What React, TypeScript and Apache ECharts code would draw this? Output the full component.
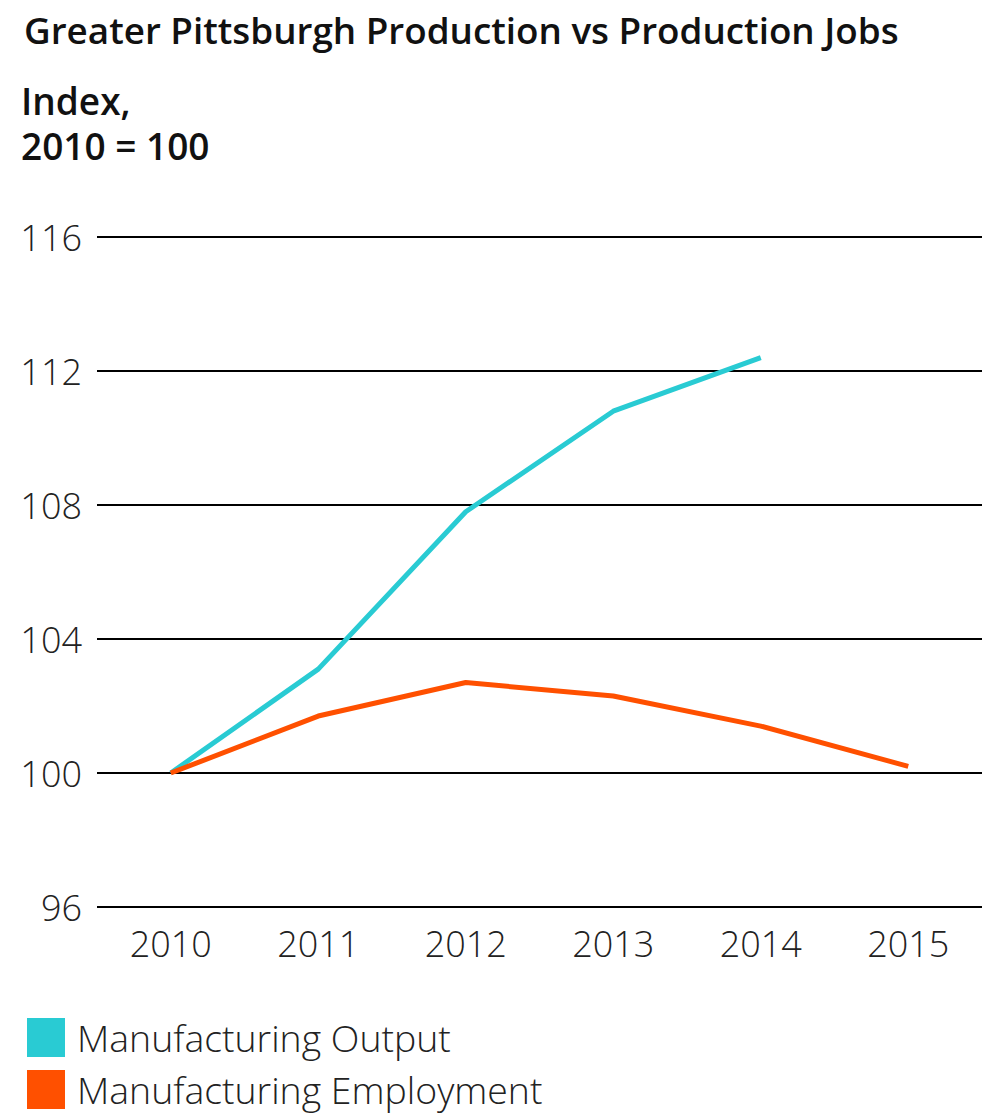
import React, { useEffect, useRef } from "react";
import * as echarts from "echarts";

const years = ["2010", "2011", "2012", "2013", "2014", "2015"];
const outputValues = [100, 103.1, 107.8, 110.8, 112.4, null];
const employmentValues = [100, 101.7, 102.7, 102.3, 101.4, 100.2];
const seriesNames = ["Manufacturing Output", "Manufacturing Employment"];
const colors = ["#29CBD3", "#FF5000"];
const titleText = "Greater Pittsburgh Production vs Production Jobs";
const unitLines = ["Index,", "2010 = 100"];

const FONT = "'Open Sans', 'Noto Sans', sans-serif";

export default function App() {
  const ref = useRef<HTMLDivElement>(null);
  useEffect(() => {
    document.body.style.margin = "0";
    const chart = echarts.init(ref.current!, null, { renderer: "svg" });
    chart.setOption({
      animation: false,
      backgroundColor: "#ffffff",
      title: {
        text: titleText,
        left: 19,
        top: 6,
        textStyle: { fontFamily: FONT, fontSize: 36.8, fontWeight: 600, color: "#111" },
      },
      graphic: unitLines.map((line, i) => ({
        type: "text",
        left: 21,
        top: 82 + i * 45,
        style: {
          text: line,
          fontFamily: FONT,
          fontSize: 37,
          fontWeight: 600,
          fill: "#111",
        },
      })),
      legend: {
        orient: "vertical",
        left: 22,
        top: 1013,
        icon: "rect",
        itemWidth: 38,
        itemHeight: 39,
        itemGap: 13,
        data: seriesNames,
        textStyle: {
          fontFamily: FONT,
          fontSize: 37.4,
          fontWeight: 300,
          color: "#222",
          padding: [0, 0, 0, 7],
        },
      },
      grid: { left: 97, right: 3, top: 237, bottom: 208, containLabel: false },
      xAxis: {
        type: "category",
        data: years,
        boundaryGap: true,
        axisLine: { show: false },
        axisTick: { show: false },
        axisLabel: {
          margin: 18,
          fontFamily: FONT,
          fontSize: 36,
          fontWeight: 300,
          color: "#222",
        },
      },
      yAxis: {
        type: "value",
        min: 96,
        max: 116,
        interval: 4,
        axisLine: { show: false },
        axisTick: { show: false },
        splitLine: { lineStyle: { color: "#000", width: 2 } },
        axisLabel: {
          margin: 15,
          fontFamily: FONT,
          fontSize: 36,
          fontWeight: 300,
          color: "#222",
        },
      },
      series: [
        {
          name: seriesNames[0],
          type: "line",
          data: outputValues,
          symbol: "none",
          lineStyle: { color: colors[0], width: 5 },
          itemStyle: { color: colors[0] },
        },
        {
          name: seriesNames[1],
          type: "line",
          data: employmentValues,
          symbol: "none",
          lineStyle: { color: colors[1], width: 5 },
          itemStyle: { color: colors[1] },
        },
      ],
    });
    return () => chart.dispose();
  }, []);
  return <div ref={ref} style={{ width: 985, height: 1115 }} />;
}
